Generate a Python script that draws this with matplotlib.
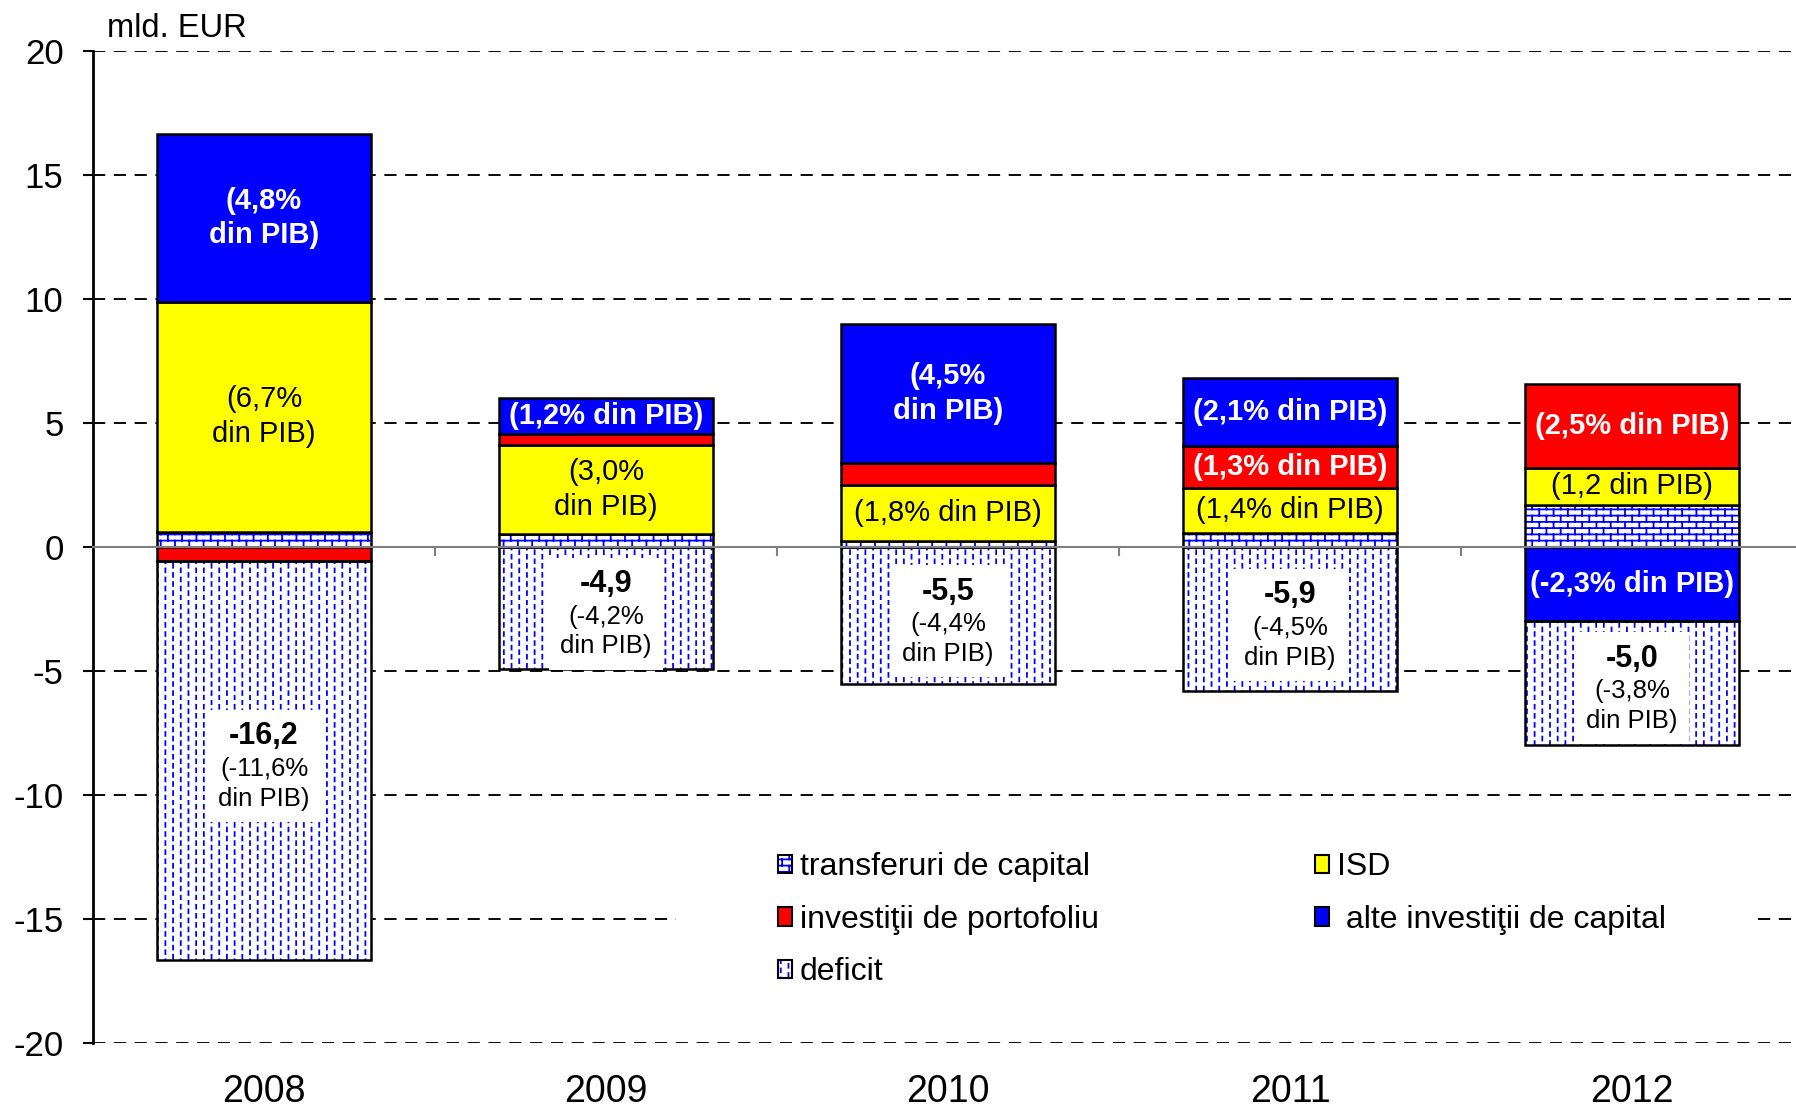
import warnings
warnings.filterwarnings('ignore')
import numpy as np
import matplotlib
matplotlib.use('Agg')
import matplotlib.pyplot as plt
import matplotlib.hatch as mhatch
import matplotlib.transforms as mtransforms
from matplotlib.path import Path
from matplotlib.patches import Patch, Rectangle
from matplotlib.offsetbox import TextArea, VPacker, AnnotationBbox

# ---------------- data ----------------
years = ['2008', '2009', '2010', '2011', '2012']
transferuri = [0.64, 0.56, 0.25, 0.59, 1.70]
isd = [9.26, 3.56, 2.26, 1.82, 1.52]
portofoliu = [-0.54, 0.44, 0.90, 1.68, 3.38]
alte = [6.78, 1.47, 5.60, 2.75, -2.95]
deficit = [-16.1, -4.9, -5.5, -5.8, -5.0]

isd_lbl = ['(6,7%\ndin PIB)', '(3,0%\ndin PIB)', '(1,8% din PIB)', '(1,4% din PIB)', '(1,2 din PIB)']
port_lbl = [None, None, None, '(1,3% din PIB)', '(2,5% din PIB)']
alte_lbl = ['(4,8%\ndin PIB)', '(1,2% din PIB)', '(4,5%\ndin PIB)', '(2,1% din PIB)', '(-2,3% din PIB)']
deficit_val_lbl = ['-16,2', '-4,9', '-5,5', '-5,9', '-5,0']
deficit_pct_lbl = ['(-11,6%\ndin PIB)', '(-4,2%\ndin PIB)', '(-4,4%\ndin PIB)',
                   '(-4,5%\ndin PIB)', '(-3,8%\ndin PIB)']
yticks = [-20, -15, -10, -5, 0, 5, 10, 15, 20]
unit_label = 'mld. EUR'

BLUE = '#0000FF'
RED = '#FF0000'
YELLOW = '#FFFF00'


# ---------------- custom hatches ----------------
class _SegHatch(mhatch.HatchPatternBase):
    char = None

    def __init__(self, hatch, density):
        self.segs = self.make_segments() if (hatch and self.char in hatch) else []
        self.num_vertices = 2 * len(self.segs)

    def set_vertices_and_codes(self, vertices, codes):
        for k, (a, b) in enumerate(self.segs):
            vertices[2 * k] = a
            vertices[2 * k + 1] = b
            codes[2 * k] = Path.MOVETO
            codes[2 * k + 1] = Path.LINETO


class BrickHatch(_SegHatch):
    char = 'b'

    @staticmethod
    def make_segments():
        rows, cols = 16, 7
        segs = []
        for i in range(rows):
            y0 = (i + 0.5) / rows
            y1 = y0 + 1.0 / rows
            segs.append(((0.0, y0), (1.0, y0)))
            off = 0.0 if i % 2 == 0 else 0.5
            for j in range(cols):
                xx = (j + 0.25 + off) / cols
                if y1 <= 1.0:
                    segs.append(((xx, y0), (xx, y1)))
                else:
                    segs.append(((xx, y0), (xx, 1.0)))
                    segs.append(((xx, 0.0), (xx, y1 - 1.0)))
        return segs


class DashHatch(_SegHatch):
    char = 'd'

    @staticmethod
    def make_segments():
        rows, cols = 11, 13
        segs = []
        for j in range(cols):
            xx = (j + 0.5) / cols
            off = 0.05 if j % 2 == 0 else 0.55
            for i in range(rows):
                segs.append(((xx, (i + off) / rows), (xx, (i + off + 0.42) / rows)))
        return segs


mhatch._hatch_types.extend([BrickHatch, DashHatch])

# ---------------- style ----------------
plt.rcParams['font.family'] = ['Liberation Sans', 'DejaVu Sans']
plt.rcParams['axes.unicode_minus'] = False
plt.rcParams['hatch.linewidth'] = 1.3

fig = plt.figure(figsize=(17.96, 11.07), dpi=100)
ax = fig.add_axes([0.0518, 0.0574, 0.9521, 0.8961])
ax.set_xlim(-0.5, len(years) - 0.5)
ax.set_ylim(-20, 20)

x = np.arange(len(years))
W = 0.625

series = [
    ('transferuri de capital', transferuri, 'white', 'b'),
    ('ISD', isd, YELLOW, None),
    ('investiţii de portofoliu', portofoliu, RED, None),
    (' alte investiţii de capital', alte, BLUE, None),
    ('deficit', deficit, 'white', 'd'),
]

pos_base = np.zeros(len(years))
neg_base = np.zeros(len(years))
centers = []
for name, vals, fc, h in series:
    v = np.array(vals, dtype=float)
    bottom = np.where(v >= 0, pos_base, neg_base)
    if h:
        ax.bar(x, v, W, bottom=bottom, color=fc, edgecolor=BLUE, linewidth=0,
               hatch=h, zorder=1)
        ax.bar(x, v, W, bottom=bottom, fill=False, edgecolor='black',
               linewidth=1.8, zorder=1.1)
    else:
        ax.bar(x, v, W, bottom=bottom, color=fc, edgecolor='black',
               linewidth=1.8, zorder=1.1)
    centers.append(bottom + v / 2)
    pos_base = pos_base + np.where(v > 0, v, 0)
    neg_base = neg_base + np.where(v < 0, v, 0)

c_isd, c_port, c_alte, c_def = centers[1], centers[2], centers[3], centers[4]


def seg_label(xi, y, s, bold):
    ax.text(xi, y, s, ha='center', va='center', fontsize=21,
            fontweight='bold' if bold else 'normal',
            color='white' if bold else 'black', linespacing=1.3, zorder=4)


for i in range(len(years)):
    seg_label(x[i], c_isd[i], isd_lbl[i], False)
    if port_lbl[i]:
        seg_label(x[i], c_port[i], port_lbl[i], True)
    seg_label(x[i], c_alte[i], alte_lbl[i], True)
    t1 = TextArea(deficit_val_lbl[i],
                  textprops=dict(fontsize=22, fontweight='bold', color='black'))
    t2 = TextArea(deficit_pct_lbl[i],
                  textprops=dict(fontsize=18.5, color='black',
                                 multialignment='center', linespacing=1.3))
    pack = VPacker(children=[t1, t2], align='center', pad=0, sep=4)
    ab = AnnotationBbox(pack, (x[i], c_def[i]), xycoords='data', frameon=True,
                        pad=0.8, box_alignment=(0.5, 0.5),
                        xybox=(0, -4), boxcoords='offset points',
                        bboxprops=dict(facecolor='white', edgecolor='none'),
                        zorder=4)
    ax.add_artist(ab)

# ---------------- axes styling ----------------
ax.set_axisbelow(True)
ax.set_yticks(yticks)
ax.set_yticklabels([str(t) for t in yticks])
ax.yaxis.grid(True, color='black', linewidth=1.35, linestyle=(0, (6.5, 4.6)))
for t, tk in zip(yticks, ax.yaxis.get_major_ticks()):
    if t == 0:
        tk.gridline.set_visible(False)
ax.tick_params(axis='y', labelsize=25, length=7.2, width=1.5, pad=14,
               color='black', direction='out')

ax.spines['top'].set_visible(False)
ax.spines['right'].set_visible(False)
ax.spines['left'].set_linewidth(2.0)
ax.spines['bottom'].set_position(('data', 0))
ax.spines['bottom'].set_color('#808080')
ax.spines['bottom'].set_linewidth(1.5)
ax.spines['bottom'].set_zorder(3)

ax.set_xticks([])
ax.set_xticks(x[:-1] + 0.5, minor=True)
ax.tick_params(axis='x', which='minor', length=6.5, width=1.5, color='#808080',
               direction='out', labelbottom=False)

sec = ax.secondary_xaxis('bottom')
sec.set_xticks(x, labels=years)
sec.tick_params(length=0, pad=22, labelsize=27)
sec.spines['bottom'].set_visible(False)

fig.text(0.0596, 0.967, unit_label, fontsize=23.5, ha='left', va='baseline')

# white panel behind legend (hides gridline there)
blend = mtransforms.blended_transform_factory(ax.transAxes, ax.transData)
ax.add_patch(Rectangle((0.341, -16.5), 0.63, 3.0, transform=blend,
                       facecolor='white', edgecolor='none', zorder=0.8))

# ---------------- legend ----------------
h_tr = Patch(facecolor='white', edgecolor='black', hatch='b', linewidth=1.5)
h_tr._hatch_color = matplotlib.colors.to_rgba(BLUE)
h_def = Patch(facecolor='white', edgecolor='black', hatch='d', linewidth=1.5)
h_def._hatch_color = matplotlib.colors.to_rgba(BLUE)
h_isd = Patch(facecolor=YELLOW, edgecolor='black', linewidth=1.5)
h_port = Patch(facecolor=RED, edgecolor='black', linewidth=1.5)
h_alte = Patch(facecolor=BLUE, edgecolor='black', linewidth=1.5)
handles = [h_tr, h_port, h_def, h_isd, h_alte]
labels = [series[0][0], series[2][0], series[4][0], series[1][0], series[3][0]]
leg = ax.legend(handles, labels, ncol=2, loc='upper left',
                bbox_to_anchor=(0.433, 0.230), bbox_transform=fig.transFigure,
                frameon=False, borderpad=0, borderaxespad=0, fontsize=23,
                handlelength=0.45, handleheight=0.5, handletextpad=0.25,
                labelspacing=0.70, columnspacing=6.75)
leg.set_zorder(5)

fig.savefig('out.png', dpi=100)
